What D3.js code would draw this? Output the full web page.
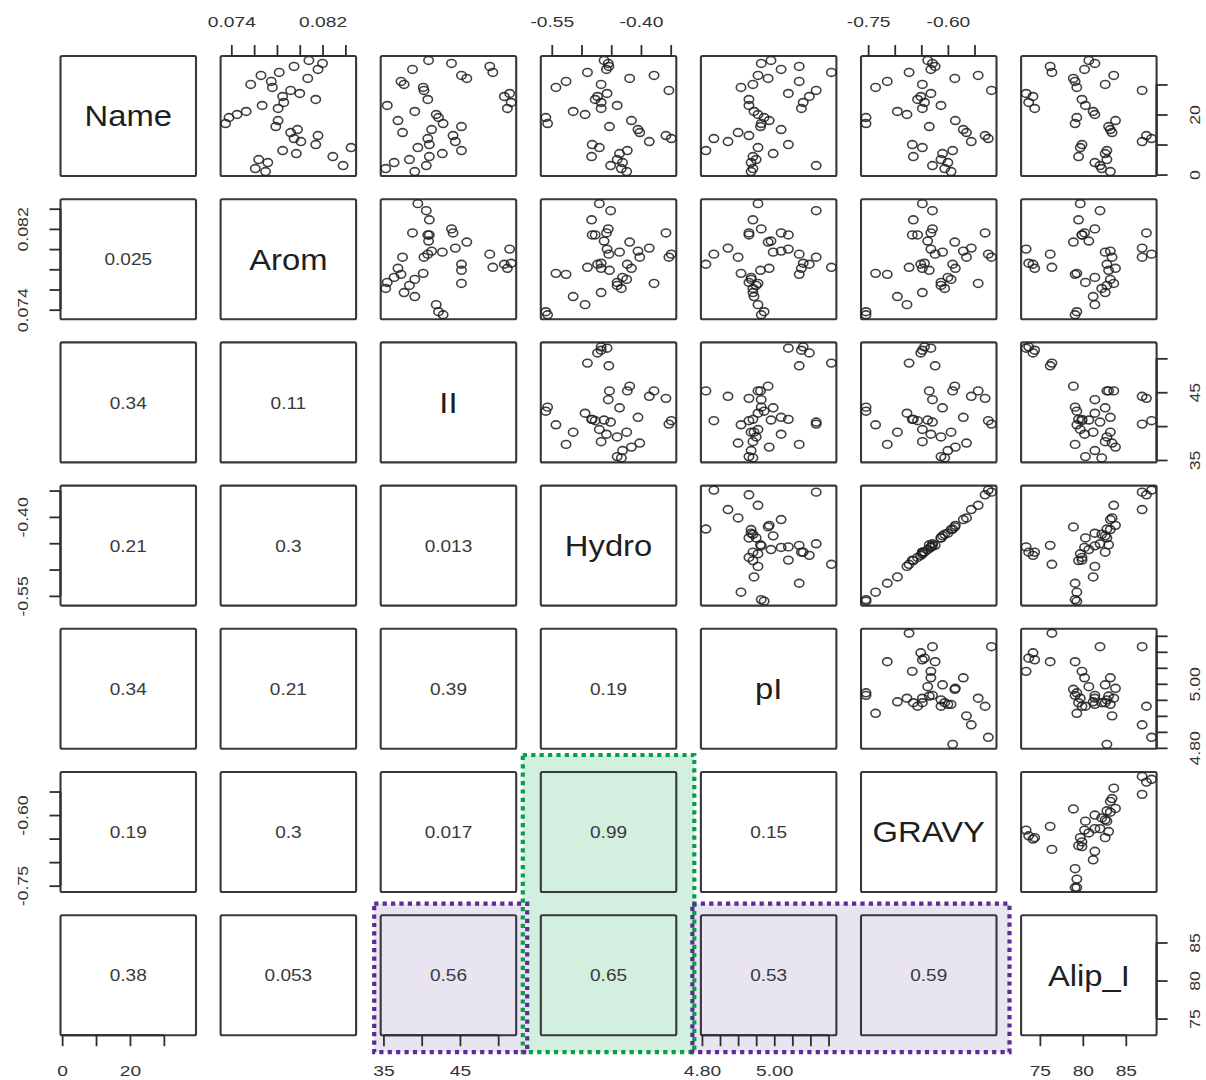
<!DOCTYPE html>
<html>
<head>
<meta charset="utf-8">
<script src="https://cdn.jsdelivr.net/npm/d3@7"></script>
<style>
  body { margin: 0; background: #fff; }
  svg { display: block; }
</style>
</head>
<body>
<svg id="chart" width="1206" height="1080"></svg>
<script>
// ---- data: one entry per protein, in Name order ----
const varNames = ["Name", "Arom", "II", "Hydro", "pI", "GRAVY", "Alip_I"];

const nameIdx = [1, 2, 3, 4, 5, 6, 7, 8, 9, 10, 11, 12, 13, 14, 15, 16, 17, 18, 19,
  20, 21, 22, 23, 24, 25, 26, 27, 28, 29, 30, 31, 32, 33, 34, 35, 36, 37, 38];

const arom = [0.0770, 0.0761, 0.0838, 0.0772, 0.0764, 0.0829, 0.0797, 0.0785, 0.0845, 0.0814,
  0.0801, 0.0795, 0.0816, 0.0792, 0.0798, 0.0779, 0.0735, 0.0781, 0.0738, 0.0745,
  0.0753, 0.0781, 0.0767, 0.0786, 0.0814, 0.0785, 0.0800, 0.0792, 0.0776, 0.0757,
  0.0775, 0.0807, 0.0766, 0.0782, 0.0816, 0.0795, 0.0820, 0.0808];

const ii = [39.1, 35.3, 40.6, 36.4, 38.4, 41.0, 42.7, 45.2, 39.5, 41.0,
  44.4, 40.8, 44.1, 37.5, 41.3, 45.2, 42.8, 36.9, 42.2, 41.9,
  39.1, 51.2, 35.5, 51.7, 40.8, 50.8, 51.5, 40.3, 40.2, 37.7,
  37.3, 45.9, 45.2, 49.3, 38.8, 48.9, 43.9, 40.9];

const hydro = [-0.424, -0.433, -0.451, -0.431, -0.440, -0.483, -0.436, -0.423, -0.470, -0.482,
  -0.386, -0.349, -0.358, -0.402, -0.405, -0.453, -0.557, -0.416, -0.560, -0.494,
  -0.514, -0.467, -0.440, -0.467, -0.477, -0.473, -0.457, -0.353, -0.543, -0.467,
  -0.526, -0.419, -0.378, -0.490, -0.458, -0.454, -0.455, -0.462];

const pI = [4.936, 4.941, 5.116, 4.936, 4.950, 4.941, 4.997, 4.811, 4.955, 5.039,
  4.872, 4.833, 4.930, 4.900, 5.019, 4.962, 4.964, 4.986, 4.972, 4.955,
  4.944, 5.075, 4.930, 5.080, 4.930, 5.097, 5.039, 5.116, 4.908, 4.941,
  5.069, 4.983, 4.955, 5.158, 5.019, 5.069, 4.964, 4.991];

const gravy = [-0.594, -0.606, -0.629, -0.600, -0.613, -0.665, -0.610, -0.591, -0.648, -0.667,
  -0.556, -0.524, -0.530, -0.565, -0.571, -0.635, -0.754, -0.586, -0.754, -0.677,
  -0.695, -0.648, -0.613, -0.644, -0.657, -0.651, -0.632, -0.518, -0.736, -0.648,
  -0.714, -0.587, -0.543, -0.673, -0.632, -0.624, -0.629, -0.638];

const alipI = [83.2, 82.2, 82.0, 81.4, 82.8, 79.5, 82.6, 82.8, 79.7, 79.9,
  86.9, 88.0, 87.4, 83.4, 83.2, 83.0, 79.1, 83.8, 79.3, 81.4,
  81.2, 74.4, 80.3, 73.7, 79.9, 74.2, 73.4, 86.9, 79.3, 82.6,
  79.1, 78.9, 83.6, 76.4, 80.2, 76.2, 81.4, 80.7];

// correlation text shown in the lower triangle (row i, columns 0..i-1)
const corrLabels = [
  [],
  ["0.025"],
  ["0.34", "0.11"],
  ["0.21", "0.3", "0.013"],
  ["0.34", "0.21", "0.39", "0.19"],
  ["0.19", "0.3", "0.017", "0.99", "0.15"],
  ["0.38", "0.053", "0.56", "0.65", "0.53", "0.59"]
];

// axis ticks and the labels printed beside them
const nameTicks = [0, 10, 20, 30];
const nameTickLabels = ["0", "", "20", ""];
const aromTicks = [0.074, 0.076, 0.078, 0.080, 0.082, 0.084];
const aromTickLabels = ["0.074", "", "", "", "0.082", ""];
const iiTicks = [35, 40, 45, 50];
const iiTickLabels = ["35", "", "45", ""];
const hydroTicks = [-0.55, -0.50, -0.45, -0.40, -0.35];
const hydroTickLabels = ["-0.55", "", "", "-0.40", ""];
const pITicks = [4.80, 4.85, 4.90, 4.95, 5.00, 5.05, 5.10, 5.15];
const pITickLabels = ["4.80", "", "", "", "5.00", "", "", ""];
const gravyTicks = [-0.75, -0.70, -0.65, -0.60, -0.55];
const gravyTickLabels = ["-0.75", "", "", "-0.60", ""];
const alipTicks = [75, 80, 85];
const alipTickLabels = ["75", "80", "85"];

const series = [nameIdx, arom, ii, hydro, pI, gravy, alipI];
const ticks = [nameTicks, aromTicks, iiTicks, hydroTicks, pITicks, gravyTicks, alipTicks];
const tickLabels = [nameTickLabels, aromTickLabels, iiTickLabels, hydroTickLabels,
  pITickLabels, gravyTickLabels, alipTickLabels];

// ---- layout ----
const svg = d3.select("#chart");
const n = varNames.length;
const panelW = 135.5, panelH = 120;
const colX = j => 60.5 + j * 160.1;
const rowY = i => 56 + i * 143.2;

const ink = "#2e2e2e";
const FONT = "'Liberation Sans', Arial, Helvetica, sans-serif";

// pairs()-style scales: 4% padding on each side of the data range
const padded = ext => { const r = ext[1] - ext[0]; return [ext[0] - 0.04 * r, ext[1] + 0.04 * r]; };
const xScales = series.map(s => d3.scaleLinear().domain(padded(d3.extent(s))).range([0, panelW]));
const yScales = series.map(s => d3.scaleLinear().domain(padded(d3.extent(s))).range([panelH, 0]));

// ---- highlight bands (drawn under the panels) ----
const greenFill = "#d3efdf", greenLine = "#0a9e4a";
const purpleFill = "#e8e4f2", purpleLine = "#5a2d91";

const greenBox = { x0: colX(3) - 18, x1: colX(3) + panelW + 18, y0: rowY(5) - 17, y1: rowY(6) + panelH + 17 };
const purpleBoxes = [
  { x0: colX(2) - 6.5, x1: colX(2) + panelW + 11, y0: rowY(6) - 11.5, y1: rowY(6) + panelH + 17 },
  { x0: colX(4) - 8.5, x1: colX(5) + panelW + 13, y0: rowY(6) - 11.5, y1: rowY(6) + panelH + 17 }
];

const bands = svg.append("g");
bands.append("rect")
  .attr("x", greenBox.x0).attr("y", greenBox.y0)
  .attr("width", greenBox.x1 - greenBox.x0).attr("height", greenBox.y1 - greenBox.y0)
  .attr("fill", greenFill);
bands.selectAll("rect.pb").data(purpleBoxes).join("rect").attr("class", "pb")
  .attr("x", d => d.x0).attr("y", d => d.y0)
  .attr("width", d => d.x1 - d.x0).attr("height", d => d.y1 - d.y0)
  .attr("fill", purpleFill);

// ---- panels ----
const cells = [];
for (let i = 0; i < n; i++) for (let j = 0; j < n; j++) cells.push({ i, j });

const panel = svg.selectAll("g.panel").data(cells).join("g")
  .attr("class", "panel")
  .attr("transform", d => `translate(${colX(d.j)},${rowY(d.i)})`);

panel.append("rect")
  .attr("width", panelW).attr("height", panelH)
  .attr("rx", 1.5)
  .attr("fill", "none").attr("stroke", "#383838").attr("stroke-width", 2.1);

// upper triangle: scatter of column variable (x) against row variable (y)
panel.filter(d => d.j > d.i).each(function (d) {
  const xs = xScales[d.j], ys = yScales[d.i];
  const pts = series[d.j].map((v, k) => [v, series[d.i][k]]);
  d3.select(this).selectAll("ellipse").data(pts).join("ellipse")
    .attr("cx", p => xs(p[0])).attr("cy", p => ys(p[1]))
    .attr("rx", 4.7).attr("ry", 3.9)
    .attr("fill", "none").attr("stroke", "#1e1e1e").attr("stroke-opacity", 0.85)
    .attr("stroke-width", 1.6);
});

// diagonal: variable names
panel.filter(d => d.j === d.i).append("text")
  .attr("transform", `translate(${panelW / 2},${panelH / 2}) scale(1.13,1)`)
  .attr("text-anchor", "middle").attr("dy", "0.36em")
  .attr("font-family", FONT).attr("font-size", 29).attr("fill", "#1e1e1e")
  .text(d => varNames[d.i]);

// lower triangle: correlation values
panel.filter(d => d.j < d.i).append("text")
  .attr("transform", `translate(${panelW / 2},${panelH / 2}) scale(1.12,1)`)
  .attr("text-anchor", "middle").attr("dy", "0.36em")
  .attr("font-family", FONT).attr("font-size", 17).attr("fill", "#3a3a3a")
  .text(d => corrLabels[d.i][d.j]);

// ---- axes, alternating sides ----
function drawAxis(orient, v, tx, ty) {
  const horizontal = orient === "top" || orient === "bottom";
  const scale = horizontal ? xScales[v] : yScales[v];
  const gen = { top: d3.axisTop, bottom: d3.axisBottom, left: d3.axisLeft, right: d3.axisRight }[orient];
  const labels = tickLabels[v];
  const axis = gen(scale).tickValues(ticks[v]).tickSize(11).tickSizeOuter(0)
    .tickFormat((t, k) => labels[k]);
  const g = svg.append("g").attr("transform", `translate(${tx},${ty})`).call(axis);
  const t0 = scale(ticks[v][0]), t1 = scale(ticks[v][ticks[v].length - 1]);
  g.select(".domain")
    .attr("d", horizontal ? `M${t0},0H${t1}` : `M0,${t0}V${t1}`)
    .attr("stroke", ink).attr("stroke-width", 2.1);
  g.selectAll(".tick line").attr("stroke", ink).attr("stroke-width", 1.8);
  const txt = g.selectAll(".tick text")
    .attr("font-family", FONT).attr("font-size", 15).attr("fill", "#333")
    .attr("text-anchor", "middle").attr("dy", "0.36em").attr("x", null).attr("y", null);
  if (orient === "top") txt.attr("transform", "translate(0,-34) scale(1.28,1)");
  if (orient === "bottom") txt.attr("transform", "translate(0,35) scale(1.28,1)");
  if (orient === "left") txt.attr("transform", "translate(-38,0) rotate(-90) scale(1.18,1)");
  if (orient === "right") txt.attr("transform", "translate(38,0) rotate(-90) scale(1.18,1)");
}

for (let j = 0; j < n; j++) {
  if (j % 2 === 1) drawAxis("top", j, colX(j), rowY(0));
  else drawAxis("bottom", j, colX(j), rowY(n - 1) + panelH);
}
for (let i = 0; i < n; i++) {
  if (i % 2 === 1) drawAxis("left", i, colX(0), rowY(i));
  else drawAxis("right", i, colX(n - 1) + panelW, rowY(i));
}

// ---- dotted outlines of the highlight bands ----
const outline = (b, color) => svg.append("rect")
  .attr("x", b.x0).attr("y", b.y0).attr("width", b.x1 - b.x0).attr("height", b.y1 - b.y0)
  .attr("stroke", color).attr("stroke-width", 4.2)
  .attr("stroke-dasharray", "4.2 4.2").attr("fill", "none");
outline(greenBox, greenLine);
purpleBoxes.forEach(b => outline(b, purpleLine));
</script>
</body>
</html>
